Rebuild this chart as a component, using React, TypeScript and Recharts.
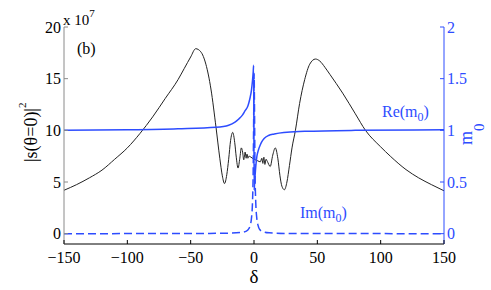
import React from "react"
import { ComposedChart, Line, XAxis, YAxis } from "recharts"

const xTicks = [-150, -100, -50, 0, 50, 100, 150]
const leftTicks = [0, 5, 10, 15, 20]
const rightTicks = [0, 0.5, 1, 1.5, 2]

// |s(theta=0)|^2, in units of 1e7
const sigX = [
  -150, -140, -130, -120, -110, -100, -90, -80, -70, -60, -55, -50, -46, -42, -38, -34, -30, -27,
  -25, -23.3, -21.5, -20, -18.5, -16.8, -15.2, -14, -12.6, -11.2, -10, -9, -8.1, -7, -6.2, -5.5,
  -4.8, -4, -3, 0, 3, 5, 6.2, 7, 7.8, 8.6, 9.5, 10.5, 12.8, 14.8, 16.8, 18.8, 20.5, 22, 24, 26,
  28, 30, 32.7, 36, 40, 44, 48.5, 52, 56, 60, 70, 80, 88, 100, 107.6, 120, 130, 140, 150,
]
const sigY = [
  4.2, 4.75, 5.4, 6.15, 7.2, 8.3, 9.7, 11.3, 13.1, 14.9, 16.0, 17.1, 17.9, 17.6, 16.4, 14.0, 10.3, 7.3,
  5.6, 4.85, 5.7, 7.2, 9.0, 9.8, 8.8, 7.4, 6.35, 7.3, 8.3, 7.9, 7.15, 7.9, 7.3, 7.7,
  7.3, 7.5, 7.45, 7.2, 7.05, 6.95, 7.3, 6.8, 7.4, 6.7, 7.2, 7.0, 6.5, 7.6, 8.3, 7.3, 5.6, 4.6, 4.25, 5.0,
  6.6, 8.3, 10.0, 12.6, 14.9, 16.4, 16.9, 16.7, 16.1, 15.4, 13.6, 11.6, 10.0, 8.4, 7.5, 6.2, 5.4, 4.75, 4.15,
]

// Re(m0)
const reX = [
  -150, -100, -60, -30, -20, -15, -12, -9, -7, -5, -4, -3, -2, -1.2, -0.6, -0.3,
  0.1, 0.6, 1.2, 2.3, 3.5, 5, 6.2, 8, 11.5, 16, 23.5, 40, 80, 150,
]
const reY = [
  1.0, 1.005, 1.015, 1.03, 1.05, 1.08, 1.11, 1.15, 1.19, 1.23, 1.27, 1.32, 1.39, 1.48, 1.57, 1.63,
  0.42, 0.52, 0.62, 0.75, 0.81, 0.86, 0.89, 0.92, 0.95, 0.965, 0.98, 0.99, 1.0, 1.005,
]

// Im(m0)
const imX = [
  -150, -40, -20, -10, -6, -4, -3, -2, -1.2, -0.6, -0.2, 0.1, 0.4, 0.8, 1.4, 2.2, 3.2, 4.5, 7, 12, 25, 150,
]
const imY = [
  0, 0.002, 0.005, 0.012, 0.025, 0.05, 0.08, 0.15, 0.3, 0.65, 1.2, 1.55, 1.2, 0.6, 0.3, 0.15, 0.08, 0.04, 0.02, 0.008, 0.002, 0,
]

const zip = (xs: number[], ys: number[]) => xs.map((d, i) => ({ d, v: ys[i] }))
const sigData = zip(sigX, sigY)
const reData = zip(reX, reY)
const imData = zip(imX, imY)

const BLUE = "#2d4cff"
const GREY = "#8a8a8a"
const FONT = "'Liberation Serif', 'Times New Roman', serif"

const fmt = (v: number) => (v < 0 ? `\u2212${Math.abs(v)}` : `${v}`)

function BottomTick({ x, y, payload }: any) {
  return (
    <g>
      <line x1={x} y1={y} x2={x} y2={y - 4} stroke="#000" />
      <text x={x} y={y + 19} textAnchor="middle" fontSize={16} fontFamily={FONT} fill="#000">
        {fmt(payload.value)}
      </text>
    </g>
  )
}

function TopTick({ x, y }: any) {
  return <line x1={x} y1={y} x2={x} y2={y + 4} stroke={GREY} />
}

function LeftTick({ x, y, payload }: any) {
  return (
    <g>
      <line x1={x} y1={y} x2={x + 4} y2={y} stroke={GREY} />
      <text x={x - 3} y={y} dy="0.35em" textAnchor="end" fontSize={16} fontFamily={FONT} fill="#000">
        {payload.value}
      </text>
    </g>
  )
}

function RightTick({ x, y, payload }: any) {
  return (
    <g>
      <line x1={x} y1={y} x2={x - 4} y2={y} stroke={BLUE} />
      <text x={x + 3} y={y} dy="0.35em" textAnchor="start" fontSize={16} fontFamily={FONT} fill={BLUE}>
        {payload.value}
      </text>
    </g>
  )
}

export default function App() {
  return (
    <div style={{ position: "absolute", left: 0, top: 0, width: 491, height: 290, background: "#fff" }}>
      <ComposedChart width={491} height={290} margin={{ top: 27, right: 0, bottom: 16, left: 0 }}>
        <XAxis
          dataKey="d"
          type="number"
          domain={[-150, 150]}
          ticks={xTicks}
          allowDataOverflow
          height={30}
          tickSize={0}
          tickMargin={0}
          axisLine={{ stroke: "#000" }}
          tickLine={false}
          tick={<BottomTick />}
        />
        <XAxis
          xAxisId="top"
          orientation="top"
          dataKey="d"
          type="number"
          domain={[-150, 150]}
          ticks={xTicks}
          allowDataOverflow
          height={0}
          tickSize={0}
          tickMargin={0}
          axisLine={{ stroke: GREY }}
          tickLine={false}
          tick={<TopTick />}
        />
        <YAxis
          yAxisId="left"
          type="number"
          domain={[-1, 20]}
          ticks={leftTicks}
          allowDataOverflow
          width={64}
          tickSize={0}
          tickMargin={0}
          axisLine={{ stroke: GREY }}
          tickLine={false}
          tick={<LeftTick />}
        />
        <YAxis
          yAxisId="right"
          orientation="right"
          type="number"
          domain={[-0.1, 2]}
          ticks={rightTicks}
          allowDataOverflow
          width={47}
          tickSize={0}
          tickMargin={0}
          axisLine={{ stroke: BLUE }}
          tickLine={false}
          tick={<RightTick />}
        />
        <Line
          yAxisId="left"
          data={sigData}
          dataKey="v"
          type="monotone"
          stroke="#222"
          strokeWidth={1}
          dot={false}
          isAnimationActive={false}
        />
        <Line
          yAxisId="right"
          data={reData}
          dataKey="v"
          type="monotone"
          stroke={BLUE}
          strokeWidth={1.5}
          dot={false}
          isAnimationActive={false}
        />
        <Line
          yAxisId="right"
          data={imData}
          dataKey="v"
          type="monotone"
          stroke={BLUE}
          strokeWidth={1.5}
          strokeDasharray="8 4"
          dot={false}
          isAnimationActive={false}
        />
      </ComposedChart>
      <svg
        width={491}
        height={290}
        style={{ position: "absolute", left: 0, top: 0, pointerEvents: "none" }}
        fontFamily={FONT}
      >
        <text x={63} y={25} fontSize={15} fill="#000">
          x 10<tspan dy={-8} fontSize={11}>7</tspan>
        </text>
        <text x={77} y={54} fontSize={16} fill="#000">(b)</text>
        <text transform="translate(37,162) rotate(-90)" fontSize={18} fill="#000">
          |s(θ=0)|<tspan dy={-11} fontSize={11}>2</tspan>
        </text>
        <text transform="translate(472,145) rotate(-90)" fontSize={18} fill={BLUE}>
          m<tspan dy={12} fontSize={15}>0</tspan>
        </text>
        <text x={382} y={117} fontSize={16} fill={BLUE}>
          Re(m<tspan dy={4} fontSize={12}>0</tspan><tspan dy={-4}>)</tspan>
        </text>
        <text x={300} y={218} fontSize={16} fill={BLUE}>
          Im(m<tspan dy={4} fontSize={12}>0</tspan><tspan dy={-4}>)</tspan>
        </text>
        <text x={254} y={283} textAnchor="middle" fontSize={19} fill="#000">δ</text>
      </svg>
    </div>
  )
}
